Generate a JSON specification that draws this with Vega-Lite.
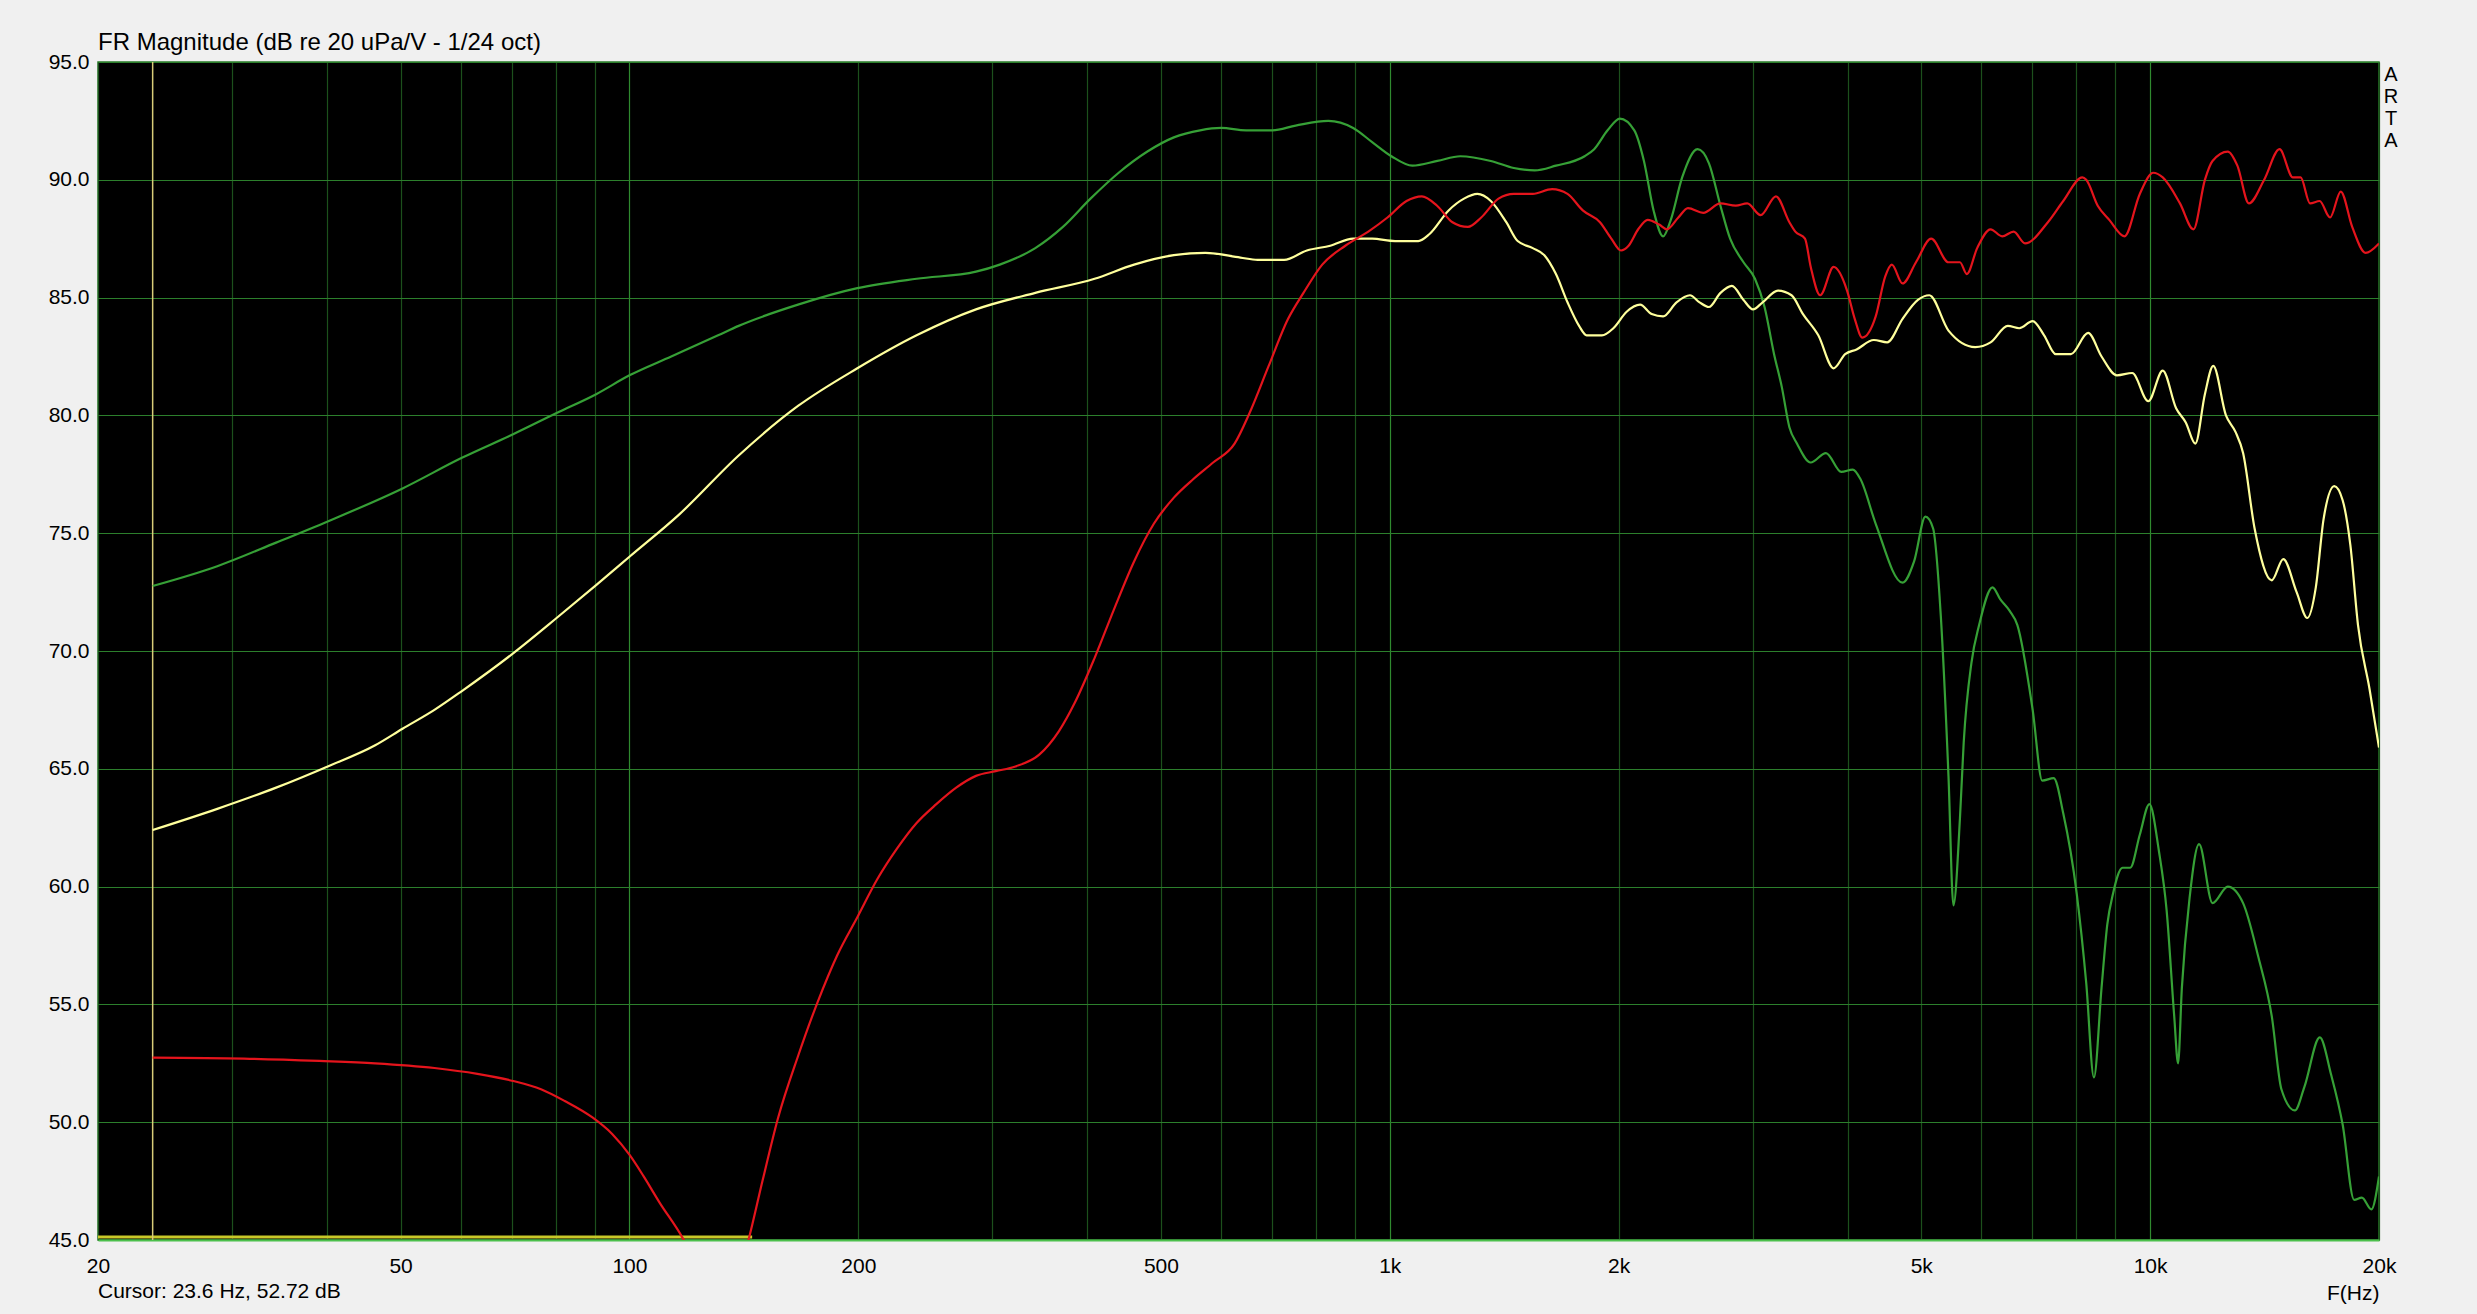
{
  "$schema": "https://vega.github.io/schema/vega-lite/v6.json",
  "autosize": {"type": "none"},
  "width": 2281,
  "height": 1178,
  "padding": {"left": 98, "top": 62, "right": 98, "bottom": 74},
  "background": "#f0f0f0",
  "title": {"text": "FR Magnitude (dB re 20 uPa/V - 1/24 oct)", "anchor": "start", "frame": "group", "font": "Liberation Sans", "fontSize": 24, "fontWeight": "normal", "color": "#000000", "baseline": "alphabetic", "offset": 0, "dy": 23},
  "config": {
    "view": {"fill": "#000000", "stroke": "#2a7a2a", "strokeWidth": 1.5},
    "text": {"font": "Liberation Sans"}
  },
  "datasets": {
    "curves": [
      {"series": "green", "freq": 23.6, "db": 72.76}, {"series": "green", "freq": 28.7, "db": 73.6}, {"series": "green", "freq": 34.3, "db": 74.6}, {"series": "green", "freq": 40.1, "db": 75.5}, {"series": "green", "freq": 50.3, "db": 76.9}, {"series": "green", "freq": 60.2, "db": 78.2}, {"series": "green", "freq": 70.3, "db": 79.2}, {"series": "green", "freq": 80.2, "db": 80.1}, {"series": "green", "freq": 90.4, "db": 80.9}, {"series": "green", "freq": 100, "db": 81.7}, {"series": "green", "freq": 113.5, "db": 82.5}, {"series": "green", "freq": 130.8, "db": 83.4}, {"series": "green", "freq": 139.2, "db": 83.8}, {"series": "green", "freq": 166.6, "db": 84.7}, {"series": "green", "freq": 199.4, "db": 85.4}, {"series": "green", "freq": 238.6, "db": 85.8}, {"series": "green", "freq": 285.6, "db": 86.1}, {"series": "green", "freq": 306.9, "db": 86.4}, {"series": "green", "freq": 341.8, "db": 87.1}, {"series": "green", "freq": 371.6, "db": 88.0}, {"series": "green", "freq": 404, "db": 89.2}, {"series": "green", "freq": 440, "db": 90.3}, {"series": "green", "freq": 480, "db": 91.2}, {"series": "green", "freq": 520, "db": 91.8}, {"series": "green", "freq": 563, "db": 92.1}, {"series": "green", "freq": 600, "db": 92.2}, {"series": "green", "freq": 647, "db": 92.1}, {"series": "green", "freq": 701, "db": 92.1}, {"series": "green", "freq": 752, "db": 92.3}, {"series": "green", "freq": 830, "db": 92.5}, {"series": "green", "freq": 895, "db": 92.2}, {"series": "green", "freq": 948, "db": 91.6}, {"series": "green", "freq": 1005, "db": 91.0}, {"series": "green", "freq": 1071, "db": 90.6}, {"series": "green", "freq": 1155, "db": 90.8}, {"series": "green", "freq": 1238, "db": 91.0}, {"series": "green", "freq": 1358, "db": 90.8}, {"series": "green", "freq": 1456, "db": 90.5}, {"series": "green", "freq": 1551, "db": 90.4}, {"series": "green", "freq": 1654, "db": 90.6}, {"series": "green", "freq": 1804, "db": 91.0}, {"series": "green", "freq": 1857, "db": 91.3}, {"series": "green", "freq": 1934, "db": 92.1}, {"series": "green", "freq": 2007, "db": 92.6}, {"series": "green", "freq": 2097, "db": 92.1}, {"series": "green", "freq": 2159, "db": 90.8}, {"series": "green", "freq": 2223, "db": 88.7}, {"series": "green", "freq": 2288, "db": 87.6}, {"series": "green", "freq": 2342, "db": 88.3}, {"series": "green", "freq": 2424, "db": 90.1}, {"series": "green", "freq": 2540, "db": 91.3}, {"series": "green", "freq": 2629, "db": 90.7}, {"series": "green", "freq": 2722, "db": 88.9}, {"series": "green", "freq": 2803, "db": 87.5}, {"series": "green", "freq": 2919, "db": 86.5}, {"series": "green", "freq": 3022, "db": 85.8}, {"series": "green", "freq": 3111, "db": 84.6}, {"series": "green", "freq": 3202, "db": 82.6}, {"series": "green", "freq": 3278, "db": 81.2}, {"series": "green", "freq": 3354, "db": 79.5}, {"series": "green", "freq": 3433, "db": 78.8}, {"series": "green", "freq": 3577, "db": 78.0}, {"series": "green", "freq": 3747, "db": 78.4}, {"series": "green", "freq": 3925, "db": 77.6}, {"series": "green", "freq": 4063, "db": 77.7}, {"series": "green", "freq": 4159, "db": 77.3}, {"series": "green", "freq": 4356, "db": 75.4}, {"series": "green", "freq": 4725, "db": 72.9}, {"series": "green", "freq": 4893, "db": 73.8}, {"series": "green", "freq": 5064, "db": 75.7}, {"series": "green", "freq": 5183, "db": 75.2}, {"series": "green", "freq": 5305, "db": 71.5}, {"series": "green", "freq": 5430, "db": 64.7}, {"series": "green", "freq": 5512, "db": 59.2}, {"series": "green", "freq": 5622, "db": 62.9}, {"series": "green", "freq": 5686, "db": 66.1}, {"series": "green", "freq": 5821, "db": 69.5}, {"series": "green", "freq": 5958, "db": 71.1}, {"series": "green", "freq": 6205, "db": 72.7}, {"series": "green", "freq": 6350, "db": 72.2}, {"series": "green", "freq": 6536, "db": 71.7}, {"series": "green", "freq": 6690, "db": 71.1}, {"series": "green", "freq": 7007, "db": 67.5}, {"series": "green", "freq": 7213, "db": 64.5}, {"series": "green", "freq": 7468, "db": 64.6}, {"series": "green", "freq": 7688, "db": 63.1}, {"series": "green", "freq": 8007, "db": 59.7}, {"series": "green", "freq": 8241, "db": 55.9}, {"series": "green", "freq": 8435, "db": 51.9}, {"series": "green", "freq": 8632, "db": 55.7}, {"series": "green", "freq": 8784, "db": 58.4}, {"series": "green", "freq": 8937, "db": 59.7}, {"series": "green", "freq": 9200, "db": 60.8}, {"series": "green", "freq": 9416, "db": 60.8}, {"series": "green", "freq": 9692, "db": 62.2}, {"series": "green", "freq": 9979, "db": 63.5}, {"series": "green", "freq": 10271, "db": 61.5}, {"series": "green", "freq": 10512, "db": 59.0}, {"series": "green", "freq": 10757, "db": 54.5}, {"series": "green", "freq": 10883, "db": 52.5}, {"series": "green", "freq": 11009, "db": 55.7}, {"series": "green", "freq": 11268, "db": 59.5}, {"series": "green", "freq": 11599, "db": 61.8}, {"series": "green", "freq": 12080, "db": 59.3}, {"series": "green", "freq": 12652, "db": 60.0}, {"series": "green", "freq": 13252, "db": 59.3}, {"series": "green", "freq": 13882, "db": 57.0}, {"series": "green", "freq": 14454, "db": 54.5}, {"series": "green", "freq": 14883, "db": 51.4}, {"series": "green", "freq": 15500, "db": 50.5}, {"series": "green", "freq": 15956, "db": 51.5}, {"series": "green", "freq": 16716, "db": 53.6}, {"series": "green", "freq": 17305, "db": 52.0}, {"series": "green", "freq": 17915, "db": 49.9}, {"series": "green", "freq": 18551, "db": 46.7}, {"series": "green", "freq": 18987, "db": 46.8}, {"series": "green", "freq": 19545, "db": 46.3}, {"series": "green", "freq": 20000, "db": 47.7},

      {"series": "yellow", "freq": 23.6, "db": 62.4}, {"series": "yellow", "freq": 28.7, "db": 63.3}, {"series": "yellow", "freq": 34.3, "db": 64.2}, {"series": "yellow", "freq": 40.1, "db": 65.1}, {"series": "yellow", "freq": 46.3, "db": 66.0}, {"series": "yellow", "freq": 50.3, "db": 66.7}, {"series": "yellow", "freq": 55.4, "db": 67.5}, {"series": "yellow", "freq": 60.2, "db": 68.3}, {"series": "yellow", "freq": 70.3, "db": 69.9}, {"series": "yellow", "freq": 80.2, "db": 71.4}, {"series": "yellow", "freq": 90.4, "db": 72.8}, {"series": "yellow", "freq": 100, "db": 74.0}, {"series": "yellow", "freq": 116.3, "db": 75.8}, {"series": "yellow", "freq": 139.2, "db": 78.3}, {"series": "yellow", "freq": 166.6, "db": 80.4}, {"series": "yellow", "freq": 199.4, "db": 82.0}, {"series": "yellow", "freq": 238.6, "db": 83.4}, {"series": "yellow", "freq": 285.6, "db": 84.5}, {"series": "yellow", "freq": 341.8, "db": 85.2}, {"series": "yellow", "freq": 409, "db": 85.8}, {"series": "yellow", "freq": 461, "db": 86.4}, {"series": "yellow", "freq": 520, "db": 86.8}, {"series": "yellow", "freq": 572, "db": 86.9}, {"series": "yellow", "freq": 636, "db": 86.7}, {"series": "yellow", "freq": 670, "db": 86.6}, {"series": "yellow", "freq": 726, "db": 86.6}, {"series": "yellow", "freq": 778, "db": 87.0}, {"series": "yellow", "freq": 835, "db": 87.2}, {"series": "yellow", "freq": 895, "db": 87.5}, {"series": "yellow", "freq": 948, "db": 87.5}, {"series": "yellow", "freq": 1016, "db": 87.4}, {"series": "yellow", "freq": 1090, "db": 87.4}, {"series": "yellow", "freq": 1128, "db": 87.7}, {"series": "yellow", "freq": 1195, "db": 88.7}, {"series": "yellow", "freq": 1252, "db": 89.2}, {"series": "yellow", "freq": 1304, "db": 89.4}, {"series": "yellow", "freq": 1358, "db": 89.1}, {"series": "yellow", "freq": 1423, "db": 88.2}, {"series": "yellow", "freq": 1473, "db": 87.4}, {"series": "yellow", "freq": 1542, "db": 87.1}, {"series": "yellow", "freq": 1597, "db": 86.8}, {"series": "yellow", "freq": 1654, "db": 86.0}, {"series": "yellow", "freq": 1713, "db": 84.8}, {"series": "yellow", "freq": 1774, "db": 83.8}, {"series": "yellow", "freq": 1815, "db": 83.4}, {"series": "yellow", "freq": 1901, "db": 83.4}, {"series": "yellow", "freq": 1968, "db": 83.7}, {"series": "yellow", "freq": 2049, "db": 84.4}, {"series": "yellow", "freq": 2134, "db": 84.7}, {"series": "yellow", "freq": 2210, "db": 84.3}, {"series": "yellow", "freq": 2288, "db": 84.2}, {"series": "yellow", "freq": 2383, "db": 84.8}, {"series": "yellow", "freq": 2482, "db": 85.1}, {"series": "yellow", "freq": 2555, "db": 84.8}, {"series": "yellow", "freq": 2629, "db": 84.6}, {"series": "yellow", "freq": 2722, "db": 85.2}, {"series": "yellow", "freq": 2818, "db": 85.5}, {"series": "yellow", "freq": 2919, "db": 84.9}, {"series": "yellow", "freq": 3004, "db": 84.5}, {"series": "yellow", "freq": 3093, "db": 84.8}, {"series": "yellow", "freq": 3239, "db": 85.3}, {"series": "yellow", "freq": 3376, "db": 85.1}, {"series": "yellow", "freq": 3495, "db": 84.3}, {"series": "yellow", "freq": 3661, "db": 83.4}, {"series": "yellow", "freq": 3835, "db": 82.0}, {"series": "yellow", "freq": 3971, "db": 82.6}, {"series": "yellow", "freq": 4111, "db": 82.8}, {"series": "yellow", "freq": 4331, "db": 83.2}, {"series": "yellow", "freq": 4510, "db": 83.1}, {"series": "yellow", "freq": 4725, "db": 84.1}, {"series": "yellow", "freq": 4950, "db": 84.9}, {"series": "yellow", "freq": 5124, "db": 85.1}, {"series": "yellow", "freq": 5430, "db": 83.6}, {"series": "yellow", "freq": 5888, "db": 82.9}, {"series": "yellow", "freq": 6168, "db": 83.1}, {"series": "yellow", "freq": 6499, "db": 83.8}, {"series": "yellow", "freq": 6729, "db": 83.7}, {"series": "yellow", "freq": 7007, "db": 84.0}, {"series": "yellow", "freq": 7254, "db": 83.4}, {"series": "yellow", "freq": 7512, "db": 82.6}, {"series": "yellow", "freq": 7868, "db": 82.6}, {"series": "yellow", "freq": 8288, "db": 83.5}, {"series": "yellow", "freq": 8632, "db": 82.5}, {"series": "yellow", "freq": 9043, "db": 81.7}, {"series": "yellow", "freq": 9472, "db": 81.8}, {"series": "yellow", "freq": 9944, "db": 80.6}, {"series": "yellow", "freq": 10390, "db": 81.9}, {"series": "yellow", "freq": 10819, "db": 80.3}, {"series": "yellow", "freq": 11140, "db": 79.7}, {"series": "yellow", "freq": 11468, "db": 78.8}, {"series": "yellow", "freq": 11804, "db": 80.9}, {"series": "yellow", "freq": 12107, "db": 82.1}, {"series": "yellow", "freq": 12582, "db": 80.0}, {"series": "yellow", "freq": 12950, "db": 79.3}, {"series": "yellow", "freq": 13252, "db": 78.4}, {"series": "yellow", "freq": 13722, "db": 75.2}, {"series": "yellow", "freq": 14454, "db": 73.0}, {"series": "yellow", "freq": 14967, "db": 73.9}, {"series": "yellow", "freq": 15584, "db": 72.5}, {"series": "yellow", "freq": 16097, "db": 71.4}, {"series": "yellow", "freq": 16517, "db": 72.7}, {"series": "yellow", "freq": 16910, "db": 75.6}, {"series": "yellow", "freq": 17466, "db": 77.0}, {"series": "yellow", "freq": 17915, "db": 76.4}, {"series": "yellow", "freq": 18337, "db": 74.5}, {"series": "yellow", "freq": 18768, "db": 71.1}, {"series": "yellow", "freq": 19432, "db": 68.4}, {"series": "yellow", "freq": 20000, "db": 65.9},

      {"series": "red", "freq": 23.6, "db": 52.74}, {"series": "red", "freq": 31.1, "db": 52.7}, {"series": "red", "freq": 39.1, "db": 52.6}, {"series": "red", "freq": 46.3, "db": 52.5}, {"series": "red", "freq": 55.4, "db": 52.3}, {"series": "red", "freq": 63.1, "db": 52.05}, {"series": "red", "freq": 70.3, "db": 51.75}, {"series": "red", "freq": 76.5, "db": 51.4}, {"series": "red", "freq": 82.2, "db": 50.9}, {"series": "red", "freq": 89.4, "db": 50.2}, {"series": "red", "freq": 94.9, "db": 49.5}, {"series": "red", "freq": 100.1, "db": 48.6}, {"series": "red", "freq": 104.4, "db": 47.7}, {"series": "red", "freq": 109.5, "db": 46.6}, {"series": "red", "freq": 117.4, "db": 45.1}, {"series": "red", "freq": 121, "db": 44.3}, {"series": "red", "freq": 131, "db": 42.0}, {"series": "red", "freq": 139, "db": 43.5}, {"series": "red", "freq": 143.4, "db": 45.0}, {"series": "red", "freq": 149.6, "db": 47.5}, {"series": "red", "freq": 156.9, "db": 50.2}, {"series": "red", "freq": 166.6, "db": 52.8}, {"series": "red", "freq": 176.8, "db": 55.1}, {"series": "red", "freq": 187.7, "db": 57.1}, {"series": "red", "freq": 199.4, "db": 58.7}, {"series": "red", "freq": 211.7, "db": 60.3}, {"series": "red", "freq": 224.7, "db": 61.6}, {"series": "red", "freq": 238.6, "db": 62.7}, {"series": "red", "freq": 253.3, "db": 63.5}, {"series": "red", "freq": 269, "db": 64.2}, {"series": "red", "freq": 285.6, "db": 64.7}, {"series": "red", "freq": 303.2, "db": 64.9}, {"series": "red", "freq": 321.9, "db": 65.1}, {"series": "red", "freq": 345.9, "db": 65.6}, {"series": "red", "freq": 367.2, "db": 66.6}, {"series": "red", "freq": 385.2, "db": 67.8}, {"series": "red", "freq": 409, "db": 69.7}, {"series": "red", "freq": 434.2, "db": 71.8}, {"series": "red", "freq": 461, "db": 73.8}, {"series": "red", "freq": 489.4, "db": 75.4}, {"series": "red", "freq": 519.7, "db": 76.5}, {"series": "red", "freq": 551.7, "db": 77.3}, {"series": "red", "freq": 585.7, "db": 78.0}, {"series": "red", "freq": 625, "db": 78.8}, {"series": "red", "freq": 654, "db": 80.1}, {"series": "red", "freq": 693, "db": 82.1}, {"series": "red", "freq": 735, "db": 84.1}, {"series": "red", "freq": 770, "db": 85.2}, {"series": "red", "freq": 815, "db": 86.4}, {"series": "red", "freq": 874, "db": 87.2}, {"series": "red", "freq": 937, "db": 87.8}, {"series": "red", "freq": 993, "db": 88.4}, {"series": "red", "freq": 1052, "db": 89.1}, {"series": "red", "freq": 1102, "db": 89.3}, {"series": "red", "freq": 1154, "db": 88.9}, {"series": "red", "freq": 1209, "db": 88.2}, {"series": "red", "freq": 1267, "db": 88.0}, {"series": "red", "freq": 1319, "db": 88.4}, {"series": "red", "freq": 1390, "db": 89.2}, {"series": "red", "freq": 1456, "db": 89.4}, {"series": "red", "freq": 1542, "db": 89.4}, {"series": "red", "freq": 1635, "db": 89.6}, {"series": "red", "freq": 1713, "db": 89.4}, {"series": "red", "freq": 1794, "db": 88.7}, {"series": "red", "freq": 1890, "db": 88.2}, {"series": "red", "freq": 1956, "db": 87.5}, {"series": "red", "freq": 2014, "db": 87.0}, {"series": "red", "freq": 2061, "db": 87.2}, {"series": "red", "freq": 2122, "db": 87.9}, {"series": "red", "freq": 2184, "db": 88.3}, {"series": "red", "freq": 2261, "db": 88.1}, {"series": "red", "freq": 2314, "db": 87.9}, {"series": "red", "freq": 2396, "db": 88.4}, {"series": "red", "freq": 2467, "db": 88.8}, {"series": "red", "freq": 2584, "db": 88.6}, {"series": "red", "freq": 2722, "db": 89.0}, {"series": "red", "freq": 2851, "db": 88.9}, {"series": "red", "freq": 2952, "db": 89.0}, {"series": "red", "freq": 3074, "db": 88.5}, {"series": "red", "freq": 3220, "db": 89.3}, {"series": "red", "freq": 3354, "db": 88.2}, {"series": "red", "freq": 3415, "db": 87.8}, {"series": "red", "freq": 3516, "db": 87.5}, {"series": "red", "freq": 3578, "db": 86.3}, {"series": "red", "freq": 3682, "db": 85.1}, {"series": "red", "freq": 3835, "db": 86.3}, {"series": "red", "freq": 3994, "db": 85.3}, {"series": "red", "freq": 4088, "db": 84.1}, {"series": "red", "freq": 4183, "db": 83.3}, {"series": "red", "freq": 4356, "db": 84.2}, {"series": "red", "freq": 4484, "db": 85.9}, {"series": "red", "freq": 4574, "db": 86.4}, {"series": "red", "freq": 4725, "db": 85.6}, {"series": "red", "freq": 4921, "db": 86.5}, {"series": "red", "freq": 5153, "db": 87.5}, {"series": "red", "freq": 5430, "db": 86.5}, {"series": "red", "freq": 5622, "db": 86.5}, {"series": "red", "freq": 5740, "db": 86.0}, {"series": "red", "freq": 5923, "db": 87.1}, {"series": "red", "freq": 6168, "db": 87.9}, {"series": "red", "freq": 6388, "db": 87.6}, {"series": "red", "freq": 6614, "db": 87.8}, {"series": "red", "freq": 6847, "db": 87.3}, {"series": "red", "freq": 7338, "db": 88.2}, {"series": "red", "freq": 7687, "db": 89.1}, {"series": "red", "freq": 8145, "db": 90.1}, {"series": "red", "freq": 8241, "db": 90.0}, {"series": "red", "freq": 8533, "db": 88.9}, {"series": "red", "freq": 8836, "db": 88.3}, {"series": "red", "freq": 9253, "db": 87.6}, {"series": "red", "freq": 9692, "db": 89.4}, {"series": "red", "freq": 10095, "db": 90.3}, {"series": "red", "freq": 10390, "db": 90.1}, {"series": "red", "freq": 10946, "db": 89.0}, {"series": "red", "freq": 11402, "db": 87.9}, {"series": "red", "freq": 11804, "db": 90.0}, {"series": "red", "freq": 12080, "db": 90.8}, {"series": "red", "freq": 12653, "db": 91.2}, {"series": "red", "freq": 13025, "db": 90.6}, {"series": "red", "freq": 13487, "db": 89.0}, {"series": "red", "freq": 14126, "db": 90.0}, {"series": "red", "freq": 14797, "db": 91.3}, {"series": "red", "freq": 15410, "db": 90.1}, {"series": "red", "freq": 15772, "db": 90.1}, {"series": "red", "freq": 16233, "db": 89.0}, {"series": "red", "freq": 16710, "db": 89.1}, {"series": "red", "freq": 17245, "db": 88.4}, {"series": "red", "freq": 17813, "db": 89.5}, {"series": "red", "freq": 18441, "db": 88.0}, {"series": "red", "freq": 19204, "db": 86.9}, {"series": "red", "freq": 20000, "db": 87.3}
    ]
  },
  "data": {"name": "curves"},
  "layer": [
    {
      "data": {"values": [{}]},
      "mark": {"type": "rule", "color": "#c8c828", "strokeWidth": 3},
      "encoding": {
        "x": {"datum": 20, "type": "quantitative", "scale": {"type": "log", "domain": [20, 20000], "nice": false},
          "axis": {
            "values": [20, 30, 40, 50, 60, 70, 80, 90, 100, 200, 300, 400, 500, 600, 700, 800, 900, 1000, 2000, 3000, 4000, 5000, 6000, 7000, 8000, 9000, 10000, 20000],
            "labelExpr": "(datum.value == 20 || datum.value == 50 || datum.value == 100 || datum.value == 200 || datum.value == 500) ? datum.value + '' : ((datum.value == 1000 || datum.value == 2000 || datum.value == 5000 || datum.value == 10000 || datum.value == 20000) ? (datum.value / 1000) + 'k' : '')",
            "labelFlush": false, "labelOverlap": false, "labelFont": "Liberation Sans", "labelFontSize": 21, "labelColor": "#000000", "labelPadding": 15,
            "ticks": false, "domainColor": "#4cc04c", "domainWidth": 2,
            "grid": true, "gridWidth": 1.2,
            "gridColor": {"condition": {"test": "datum.value == 100 || datum.value == 1000 || datum.value == 10000", "value": "#2f8a2f"}, "value": "#1c501c"},
            "title": "F(Hz)", "titleFont": "Liberation Sans", "titleFontSize": 21, "titleFontWeight": "normal", "titleColor": "#000000",
            "titleAlign": "right", "titleBaseline": "alphabetic", "titleX": 2281, "titleY": 59
          }
        },
        "x2": {"datum": 145},
        "y": {"datum": 45.13, "type": "quantitative", "scale": {"domain": [45, 95], "nice": false, "zero": false},
          "axis": {
            "values": [45, 50, 55, 60, 65, 70, 75, 80, 85, 90, 95], "format": ".1f",
            "labelFont": "Liberation Sans", "labelFontSize": 21, "labelColor": "#000000", "labelPadding": 9,
            "ticks": false, "domain": false, "grid": true, "gridColor": "#2c7f2c", "gridWidth": 1.2, "title": null
          }
        }
      }
    },
    {
      "data": {"values": [{}]},
      "mark": {"type": "rule", "color": "#d8cc78", "strokeWidth": 1.5},
      "encoding": {"x": {"datum": 23.6, "type": "quantitative"}}
    },
    {
      "transform": [{"filter": "datum.series == 'green'"}],
      "mark": {"type": "line", "color": "#36a036", "strokeWidth": 2.2, "clip": true, "interpolate": "monotone"},
      "encoding": {"x": {"field": "freq", "type": "quantitative"}, "y": {"field": "db", "type": "quantitative"}}
    },
    {
      "transform": [{"filter": "datum.series == 'yellow'"}],
      "mark": {"type": "line", "color": "#ffff9c", "strokeWidth": 2.2, "clip": true, "interpolate": "monotone"},
      "encoding": {"x": {"field": "freq", "type": "quantitative"}, "y": {"field": "db", "type": "quantitative"}}
    },
    {
      "transform": [{"filter": "datum.series == 'red'"}],
      "mark": {"type": "line", "color": "#e4141c", "strokeWidth": 2.2, "clip": true, "interpolate": "monotone"},
      "encoding": {"x": {"field": "freq", "type": "quantitative"}, "y": {"field": "db", "type": "quantitative"}}
    },
    {
      "data": {"values": [{}]},
      "mark": {"type": "text", "text": "Cursor: 23.6 Hz, 52.72 dB", "align": "left", "baseline": "alphabetic", "fontSize": 21, "color": "#000000", "font": "Liberation Sans"},
      "encoding": {"x": {"datum": 20, "type": "quantitative"}, "y": {"datum": 42.54, "type": "quantitative"}}
    },
    {
      "data": {"values": [{}]},
      "mark": {"type": "text", "text": "A\nR\nT\nA", "lineBreak": "\n", "lineHeight": 22, "align": "center", "baseline": "top", "dx": 12, "fontSize": 20, "color": "#000000", "font": "Liberation Sans"},
      "encoding": {"x": {"datum": 20000, "type": "quantitative"}, "y": {"datum": 94.87, "type": "quantitative"}}
    }
  ]
}
